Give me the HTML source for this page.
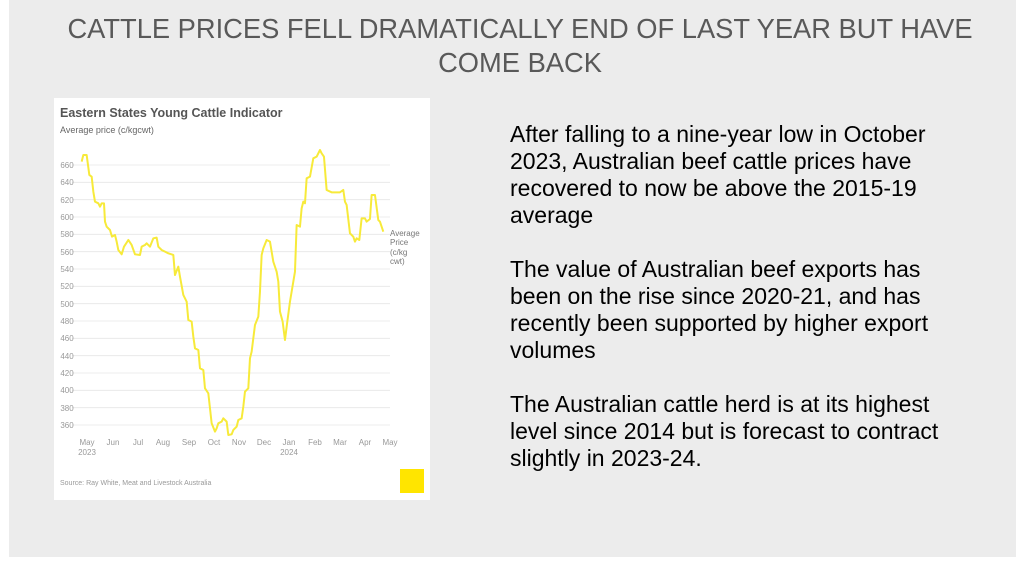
<!DOCTYPE html>
<html><head><meta charset="utf-8"><style>
body{margin:0;width:1024px;height:562px;background:#fff;position:relative;overflow:hidden;font-family:"Liberation Sans",sans-serif}
#slide{position:absolute;left:9px;top:0;width:1007px;height:557px;background:#ececec}
#title{position:absolute;left:0;top:12px;width:1040px;text-align:center;font-size:27.3px;line-height:34px;color:#595959}
#body{position:absolute;left:510px;top:121px;width:440px;font-size:23px;line-height:27px;color:#000}
#body p{margin:0 0 27px 0}
</style></head><body>
<div id="slide"></div>
<div id="title">CATTLE PRICES FELL DRAMATICALLY END OF LAST YEAR BUT HAVE<br>COME BACK</div>
<svg style="position:absolute;left:0;top:0" width="1024" height="562">
<rect x="54" y="98" width="376" height="402" fill="#fff"/>
<g font-family="Liberation Sans,sans-serif">
<text x="60" y="117" font-size="12.5" font-weight="bold" fill="#555">Eastern States Young Cattle Indicator</text>
<text x="60" y="133" font-size="9" fill="#666">Average price (c/kgcwt)</text>
<g stroke="#e6e6e6" stroke-width="0.8">
<line x1="72" x2="390" y1="165" y2="165"/><line x1="72" x2="390" y1="182.3" y2="182.3"/><line x1="72" x2="390" y1="199.7" y2="199.7"/><line x1="72" x2="390" y1="217" y2="217"/><line x1="72" x2="390" y1="234.3" y2="234.3"/><line x1="72" x2="390" y1="251.7" y2="251.7"/><line x1="72" x2="390" y1="269" y2="269"/><line x1="72" x2="390" y1="286.3" y2="286.3"/><line x1="72" x2="390" y1="303.7" y2="303.7"/><line x1="72" x2="390" y1="321" y2="321"/><line x1="72" x2="390" y1="338.3" y2="338.3"/><line x1="72" x2="390" y1="355.7" y2="355.7"/><line x1="72" x2="390" y1="373" y2="373"/><line x1="72" x2="390" y1="390.3" y2="390.3"/><line x1="72" x2="390" y1="407.7" y2="407.7"/><line x1="72" x2="390" y1="425" y2="425"/>
</g>
<g font-size="8" fill="#999" text-anchor="middle">
<text x="67" y="168">660</text><text x="67" y="185">640</text><text x="67" y="203">620</text><text x="67" y="220">600</text><text x="67" y="237">580</text><text x="67" y="255">560</text><text x="67" y="272">540</text><text x="67" y="289">520</text><text x="67" y="307">500</text><text x="67" y="324">480</text><text x="67" y="341">460</text><text x="67" y="359">440</text><text x="67" y="376">420</text><text x="67" y="393">400</text><text x="67" y="411">380</text><text x="67" y="428">360</text>
<text x="87" y="445">May</text><text x="87" y="455">2023</text><text x="113" y="445">Jun</text><text x="138" y="445">Jul</text><text x="163" y="445">Aug</text><text x="189" y="445">Sep</text><text x="214" y="445">Oct</text><text x="239" y="445">Nov</text><text x="264" y="445">Dec</text><text x="289" y="445">Jan</text><text x="289" y="455">2024</text><text x="315" y="445">Feb</text><text x="340" y="445">Mar</text><text x="365" y="445">Apr</text><text x="390" y="445">May</text>
</g>
<g font-size="8" fill="#777"><text x="390" y="236">Average</text><text x="390" y="245">Price</text><text x="390" y="255">(c/kg</text><text x="390" y="264">cwt)</text></g>
<text x="60" y="485" font-size="7" fill="#999">Source: Ray White, Meat and Livestock Australia</text>
<rect x="400" y="469" width="24" height="24" fill="#ffe500"/>
</g>
<polyline transform="translate(50,95) scale(0.3333)" fill="none" stroke="#f7ea3a" stroke-width="6" stroke-linejoin="round" points="95,200 100,180 110,180 118,240 125,245 130,290 135,320 145,325 150,335 155,325 162,325 165,380 170,395 180,405 186,425 195,420 200,440 205,465 215,478 222,455 235,435 245,450 255,478 270,480 275,455 285,450 290,445 300,455 310,430 320,428 325,455 335,465 345,470 355,475 370,480 375,540 385,515 390,545 400,600 410,620 415,675 425,680 430,725 435,760 445,765 450,820 460,825 465,880 475,895 480,940 485,985 495,1010 500,1000 505,985 515,980 520,970 530,980 535,1020 545,1018 550,1005 560,995 565,975 575,970 580,935 585,890 595,880 600,790 605,770 615,690 625,665 630,590 635,480 640,460 650,435 660,440 670,500 680,530 685,560 690,650 698,680 705,735 712,680 720,620 735,530 740,390 750,395 755,340 760,320 765,325 770,250 780,245 790,190 800,185 810,165 815,175 822,185 830,285 845,292 870,292 880,285 885,320 890,330 900,415 910,425 915,440 920,430 928,435 935,370 945,370 950,380 960,372 965,300 975,300 985,375 990,380 995,395 1000,410"/>
</svg>
<div id="body">
<p>After falling to a nine-year low in October 2023, Australian beef cattle prices have recovered to now be above the 2015-19 average</p>
<p>The value of Australian beef exports has been on the rise since 2020-21, and has recently been supported by higher export volumes</p>
<p>The Australian cattle herd is at its highest level since 2014 but is forecast to contract slightly in 2023-24.</p>
</div>
</body></html>
